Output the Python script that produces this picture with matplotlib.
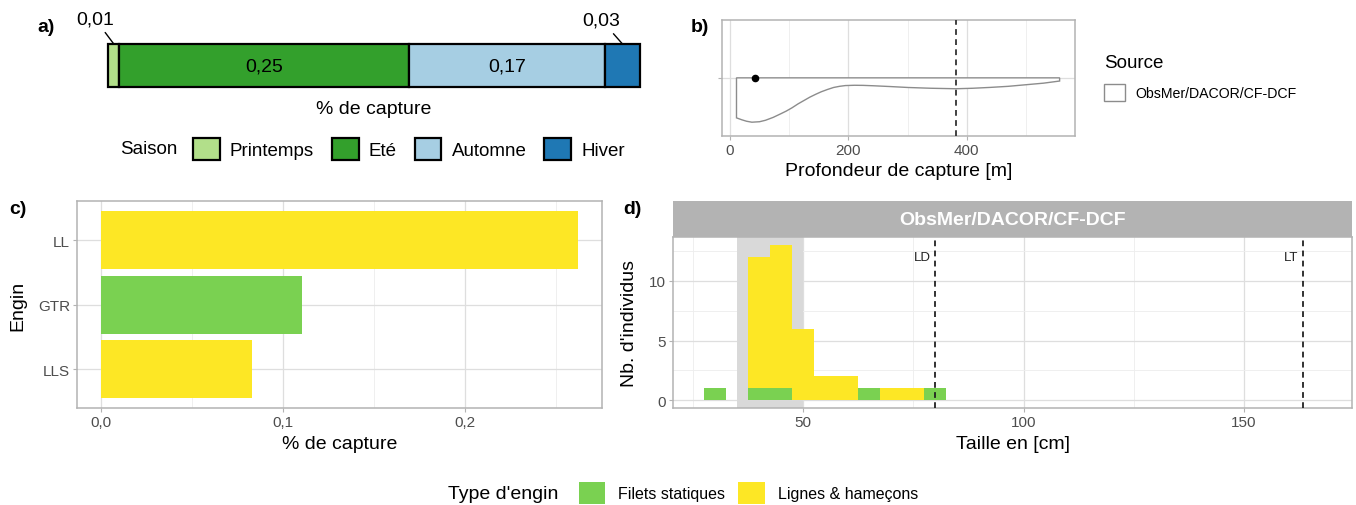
import matplotlib
matplotlib.use('Agg')
import matplotlib.pyplot as plt
from matplotlib.patches import Patch

W, H, DPI = 1356, 506, 100
plt.rcParams['font.family'] = ['Liberation Sans', 'DejaVu Sans']

# ---------------- data ----------------
seasons = ['Printemps', 'Eté', 'Automne', 'Hiver']
season_share = [0.0095, 0.25, 0.169, 0.0302]
season_labels = ['0,01', '0,25', '0,17', '0,03']
season_colors = ['#B2DF8A', '#33A02C', '#A6CEE3', '#1F78B4']

depth_x = [11, 20, 28, 37, 50, 60, 73, 85, 95, 105, 115, 125, 135, 145, 154, 165,
           175, 185, 195, 210, 225, 242, 270, 301, 340, 382, 410, 440, 470, 499, 530, 557]
depth_h = [0.415, 0.435, 0.45, 0.46, 0.455, 0.44, 0.41, 0.375, 0.345, 0.31, 0.27, 0.235,
           0.20, 0.17, 0.145, 0.12, 0.10, 0.088, 0.08, 0.077, 0.078, 0.082, 0.09, 0.10,
           0.108, 0.113, 0.108, 0.099, 0.088, 0.072, 0.055, 0.033]
depth_point = 42
depth_ref = 381.5
source_name = 'ObsMer/DACOR/CF-DCF'

engins = ['LLS', 'GTR', 'LL']
engin_share = [0.0828, 0.1104, 0.2625]
engin_type = ['Lignes & hameçons', 'Filets statiques', 'Lignes & hameçons']
gear_types = ['Filets statiques', 'Lignes & hameçons']
gear_colors = ['#7AD151', '#FDE725']

size_centers = [30, 35, 40, 45, 50, 55, 60, 65, 70, 75, 80]
count_filets = [1, 0, 1, 1, 0, 0, 0, 1, 0, 0, 1]
count_lignes = [0, 0, 11, 12, 6, 2, 2, 0, 1, 1, 0]
bin_width = 5
shade_range = (35, 50)
size_refs = {'LD': 80, 'LT': 163.4}

# ---------------- helpers ----------------
fig = plt.figure(figsize=(W / DPI, H / DPI), dpi=DPI)


def px_axes(x0, y0, x1, y1):
    return fig.add_axes([x0 / W, 1 - y1 / H, (x1 - x0) / W, (y1 - y0) / H])


def fx(x):
    return x / W


def fy(y):
    return 1 - y / H


GRID = '#DEDEDE'
GRIDMIN = '#EDEDED'
BORDER = '#B3B3B3'
TICKC = '#4D4D4D'
gear_col = dict(zip(gear_types, gear_colors))


def light_theme(ax):
    for s in ax.spines.values():
        s.set_color(BORDER)
        s.set_linewidth(1.1)
    ax.tick_params(which='major', color=BORDER, length=3.0, width=0.8,
                   labelsize=11, labelcolor=TICKC, pad=2.2)
    ax.tick_params(which='minor', length=0)
    ax.set_axisbelow(True)
    ax.grid(which='major', color=GRID, lw=0.9)
    ax.grid(which='minor', color=GRIDMIN, lw=0.6)


def place_labels(ax, x0, y0, x1, y1, xlab_y=None, ylab_x=None):
    w, h = x1 - x0, y1 - y0
    if xlab_y is not None:
        ax.xaxis.label.set_va('center')
        ax.xaxis.set_label_coords(0.5, -(xlab_y - y1) / h)
    if ylab_x is not None:
        ax.yaxis.label.set_va('center')
        ax.yaxis.set_label_coords(-(x0 - ylab_x) / w, 0.5)


# ---------------- panel a ----------------
axA = px_axes(108.3, 45, 640, 88.3)
total = sum(season_share)
left = 0
offsets = {0: (-13.5, 18), 3: (-15, 17)}
for i, (s, lab, c) in enumerate(zip(season_share, season_labels, season_colors)):
    axA.barh(0.5, s, left=left, height=1, color=c, edgecolor='black', lw=1.6, clip_on=False)
    cx = left + s / 2
    if s > 0.1:
        axA.text(cx, 0.5, lab, ha='center', va='center', fontsize=14)
    else:
        axA.annotate(lab, xy=(cx, 1.0), xytext=offsets.get(i, (0, 18)), textcoords='offset points',
                     ha='center', va='center', fontsize=14, annotation_clip=False,
                     arrowprops=dict(arrowstyle='-', color='black', lw=1.0, shrinkA=2, shrinkB=0))
    left += s
axA.set_xlim(0, total)
axA.set_ylim(0, 1)
axA.axis('off')
fig.text(fx(374), fy(110), '% de capture', ha='center', va='center', fontsize=14)
fig.text(fx(37), fy(28), 'a)', ha='left', va='center', fontsize=14, fontweight='bold')
fig.text(fx(120.6), fy(150), 'Saison', ha='left', va='center', fontsize=13.5)
fig.legend([Patch(facecolor=c, edgecolor='black', lw=1.6) for c in season_colors], seasons,
           ncol=4, loc='center left', bbox_to_anchor=(fx(193), fy(150)), frameon=False,
           fontsize=13.5, handlelength=1.42, handleheight=1.42, handletextpad=0.55,
           columnspacing=0.95, borderpad=0, borderaxespad=0)

# ---------------- panel b ----------------
bx0, by0, bx1, by1 = 721.7, 21, 1075, 136.7
axB = px_axes(bx0, by0, bx1, by1)
light_theme(axB)
vx = [depth_x[0]] + depth_x + [depth_x[-1]]
vy = [1] + [1 - h for h in depth_h] + [1]
axB.fill(vx, vy, facecolor='white', edgecolor='#8C8C8C', lw=1.0, zorder=3)
axB.scatter([depth_point], [1], s=20, color='black', zorder=5)
axB.axvline(depth_ref, color='#333333', lw=1.3, ls=(0, (3.2, 2.4)), zorder=4)
axB.set_xlim(-14, 583)
axB.set_ylim(0.4, 1.6)
axB.set_xticks([0, 200, 400])
axB.set_xticks([100, 300, 500], minor=True)
axB.set_yticks([1])
axB.set_yticklabels([])
axB.grid(which='minor', axis='y', visible=False)
axB.set_xlabel('Profondeur de capture [m]', fontsize=14)
place_labels(axB, bx0, by0, bx1, by1, xlab_y=172)
fig.text(fx(690.7), fy(27), 'b)', ha='left', va='center', fontsize=14, fontweight='bold')
fig.text(fx(1104), fy(63.3), 'Source', ha='left', va='center', fontsize=13.5)
fig.legend([Patch(facecolor='white', edgecolor='#8C8C8C', lw=1.0)], [source_name],
           loc='center left', bbox_to_anchor=(fx(1104), fy(93.6)), frameon=False,
           fontsize=10.2, handlelength=1.45, handleheight=1.45, handletextpad=0.75,
           borderpad=0, borderaxespad=0)

# ---------------- panel c ----------------
cx0, cy0, cx1, cy1 = 77.3, 202.3, 602.2, 409
axC = px_axes(cx0, cy0, cx1, cy1)
light_theme(axC)
ypos = list(range(len(engins)))
axC.barh(ypos, engin_share, height=0.9, color=[gear_col[t] for t in engin_type], zorder=2)
xmax = max(engin_share)
axC.set_xlim(-0.05 * xmax, 1.05 * xmax)
axC.set_ylim(-0.6, len(engins) - 0.4)
axC.set_yticks(ypos)
axC.set_yticklabels(engins)
axC.set_xticks([0, 0.1, 0.2])
axC.set_xticklabels(['0,0', '0,1', '0,2'])
axC.set_xticks([0.05, 0.15, 0.25], minor=True)
axC.grid(which='minor', axis='y', visible=False)
axC.set_xlabel('% de capture', fontsize=14)
axC.set_ylabel('Engin', fontsize=14)
place_labels(axC, cx0, cy0, cx1, cy1, xlab_y=445, ylab_x=18)
fig.text(fx(9.3), fy(209), 'c)', ha='left', va='center', fontsize=14, fontweight='bold')

# ---------------- panel d ----------------
dx0, dy0, dx1, dy1 = 673.3, 238.3, 1351.7, 409
axS = px_axes(dx0, 202.3, dx1, dy0)
axS.set_facecolor('#B3B3B3')
axS.set_xticks([])
axS.set_yticks([])
for s in axS.spines.values():
    s.set_visible(False)
axS.text(0.5, 0.5, source_name, transform=axS.transAxes, ha='center', va='center',
         color='white', fontsize=14, fontweight='bold')

axD = px_axes(dx0, dy0, dx1, dy1)
light_theme(axD)
axD.axvspan(shade_range[0], shade_range[1], color='#D9D9D9', lw=0, zorder=1)
axD.bar(size_centers, count_filets, width=bin_width, color=gear_col['Filets statiques'], zorder=2)
axD.bar(size_centers, count_lignes, width=bin_width, bottom=count_filets,
        color=gear_col['Lignes & hameçons'], zorder=2)
for name, val in size_refs.items():
    axD.axvline(val, color='#222222', lw=1.3, ls=(0, (3.2, 2.4)), zorder=3)
    axD.annotate(name, xy=(val, 12), xytext=(-3.5, 0), textcoords='offset points',
                 ha='right', va='center', fontsize=9.5, color='#222222')
axD.set_xlim(20.6, 174.4)
axD.set_ylim(-0.65, 13.65)
axD.set_xticks([50, 100, 150])
axD.set_xticks([25, 75, 125], minor=True)
axD.set_yticks([0, 5, 10])
axD.set_yticks([2.5, 7.5, 12.5], minor=True)
axD.set_xlabel('Taille en [cm]', fontsize=14)
axD.set_ylabel("Nb. d'individus", fontsize=14)
place_labels(axD, dx0, dy0, dx1, dy1, xlab_y=445, ylab_x=630)
fig.text(fx(623.3), fy(209), 'd)', ha='left', va='center', fontsize=14, fontweight='bold')

# ---------------- bottom legend ----------------
fig.text(fx(448), fy(494.5), "Type d'engin", ha='left', va='center', fontsize=14)
fig.legend([Patch(facecolor=c, edgecolor='none') for c in gear_colors], gear_types,
           ncol=2, loc='center left', bbox_to_anchor=(fx(578.6), fy(494)), frameon=False,
           fontsize=11.5, handlelength=1.68, handleheight=1.68, handletextpad=0.8,
           columnspacing=0.8, borderpad=0, borderaxespad=0)

fig.savefig('out.png', dpi=DPI)
